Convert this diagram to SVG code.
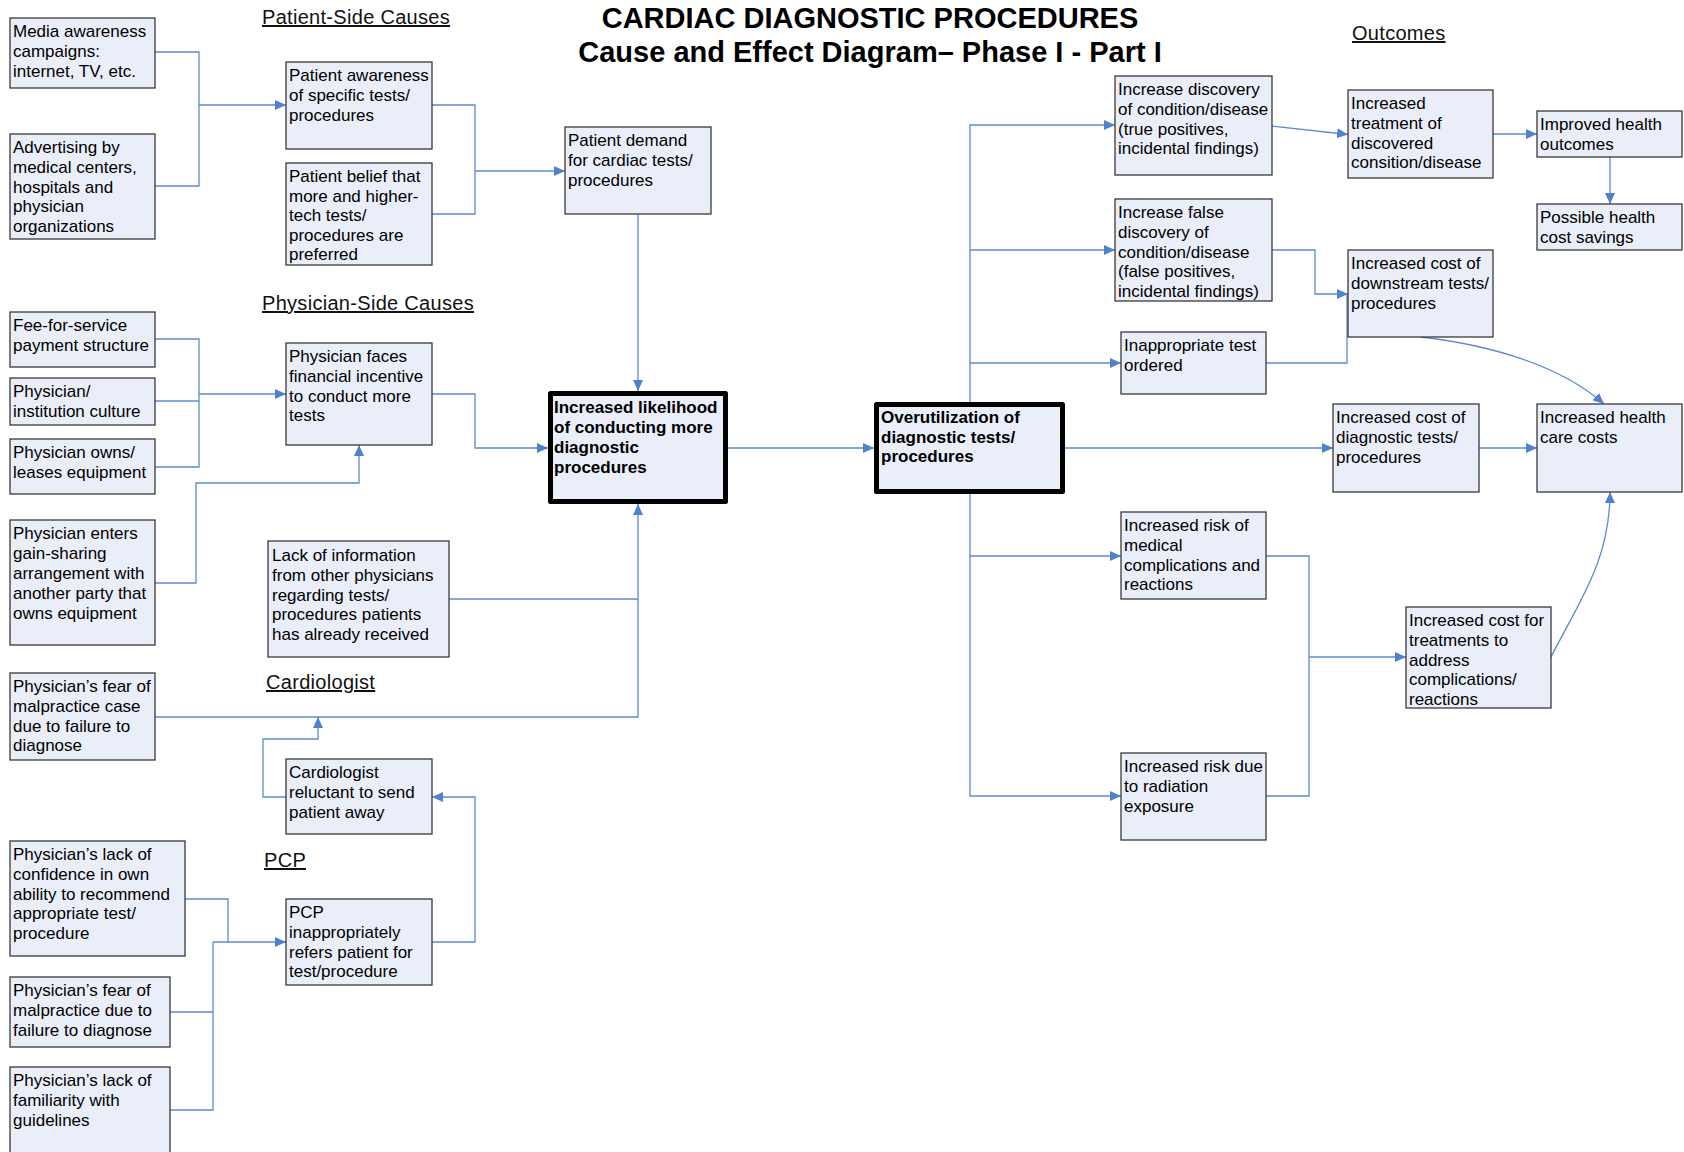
<svg xmlns="http://www.w3.org/2000/svg" width="1684" height="1152" viewBox="0 0 1684 1152">
<style>
.bx{fill:#EAEEF8;stroke:#3a3a3a;stroke-width:1.3}
.bk{fill:#EAEEF8;stroke:#000;stroke-width:5;stroke-linejoin:round}
.t{font-family:"Liberation Sans",Arial,sans-serif;font-size:17px;fill:#000}
.tb{font-family:"Liberation Sans",Arial,sans-serif;font-size:17px;font-weight:bold;fill:#000}
.lb{font-family:"Liberation Sans",Arial,sans-serif;font-size:20px;fill:#111;text-decoration:underline;letter-spacing:0.3px}
.ti{font-family:"Liberation Sans",Arial,sans-serif;font-size:29px;font-weight:bold;fill:#000}
.c{fill:none;stroke:#5B8BD0;stroke-width:1.3}
.a{marker-end:url(#ar)}
</style>
<defs>
<marker id="ar" markerUnits="userSpaceOnUse" markerWidth="11" markerHeight="10" refX="11" refY="5" orient="auto">
<path d="M0,0 L11,5 L0,10 z" fill="#4F81CC"/>
</marker>
</defs>
<rect width="1684" height="1152" fill="#fff"/>

<g id="title">
<text class="ti" x="870" y="28" text-anchor="middle">CARDIAC DIAGNOSTIC PROCEDURES</text>
<text class="ti" x="870" y="62" text-anchor="middle">Cause and Effect Diagram– Phase I - Part I</text>
</g>
<g id="labels">
<text class="lb" x="262" y="24">Patient-Side Causes</text>
<text class="lb" x="262" y="310">Physician-Side Causes</text>
<text class="lb" x="266" y="689">Cardiologist</text>
<text class="lb" x="264" y="867">PCP</text>
<text class="lb" x="1352" y="40">Outcomes</text>
</g>

<g id="connectors">
<path class="c" d="M155,52 H199 V186 H155"/>
<path class="c a" d="M199,105 H286"/>
<path class="c" d="M432,105 H475 V214 H432"/>
<path class="c a" d="M475,171 H565"/>
<path class="c a" d="M638,214 V391"/>
<path class="c" d="M155,339 H199 V467 H155"/>
<path class="c" d="M155,401 H199"/>
<path class="c a" d="M199,394 H286"/>
<path class="c a" d="M432,394 H475 V448 H548"/>
<path class="c a" d="M155,583 H196 V483 H359 V445"/>
<path class="c" d="M449,599 H638"/>
<path class="c a" d="M155,717 H638 V504"/>
<path class="c a" d="M286,797 H263 V739 H318 V717"/>
<path class="c a" d="M432,942 H475 V797 H432"/>
<path class="c" d="M185,899 H228 V942"/>
<path class="c" d="M170,1012 H213"/>
<path class="c" d="M170,1110 H213 V942"/>
<path class="c a" d="M213,942 H286"/>
<path class="c a" d="M728,448 H874"/>
<path class="c a" d="M1065,448 H1333"/>
<path class="c a" d="M970,402 V125 H1115"/>
<path class="c a" d="M970,250 H1115"/>
<path class="c a" d="M970,363 H1121"/>
<path class="c a" d="M970,494 V796 H1121"/>
<path class="c a" d="M970,556 H1121"/>
<path class="c a" d="M1263,125 L1348,134.5"/>
<path class="c a" d="M1493,134 H1537"/>
<path class="c a" d="M1610,157 V204"/>
<path class="c a" d="M1272,250 H1315 V294 H1348"/>
<path class="c" d="M1266,363 H1347 V294"/>
<path class="c a" d="M1421,337 C1490,345 1560,365 1604,404"/>
<path class="c a" d="M1479,448 H1537"/>
<path class="c" d="M1266,556 H1309 V796 H1266"/>
<path class="c a" d="M1309,657 H1406"/>
<path class="c a" d="M1551,657 C1580,600 1610,560 1610,492"/>
</g>

<g id="media"><rect class="bx" x="10" y="18" width="145" height="70"/>
<text class="t" x="13" y="37"><tspan x="13">Media awareness</tspan><tspan x="13" dy="19.8">campaigns:</tspan><tspan x="13" dy="19.8">internet, TV, etc.</tspan></text></g>
<g id="advertising"><rect class="bx" x="10" y="134" width="145" height="105"/>
<text class="t" x="13" y="153"><tspan x="13">Advertising by</tspan><tspan x="13" dy="19.8">medical centers,</tspan><tspan x="13" dy="19.8">hospitals and</tspan><tspan x="13" dy="19.8">physician</tspan><tspan x="13" dy="19.8">organizations</tspan></text></g>
<g id="patient-awareness"><rect class="bx" x="286" y="62" width="146" height="87"/>
<text class="t" x="289" y="81"><tspan x="289">Patient awareness</tspan><tspan x="289" dy="19.8">of specific tests/</tspan><tspan x="289" dy="19.8">procedures</tspan></text></g>
<g id="patient-belief"><rect class="bx" x="286" y="163" width="146" height="102"/>
<text class="t" x="289" y="182"><tspan x="289">Patient belief that</tspan><tspan x="289" dy="19.5">more and higher-</tspan><tspan x="289" dy="19.5">tech tests/</tspan><tspan x="289" dy="19.5">procedures are</tspan><tspan x="289" dy="19.5">preferred</tspan></text></g>
<g id="patient-demand"><rect class="bx" x="565" y="127" width="146" height="87"/>
<text class="t" x="568" y="146"><tspan x="568">Patient demand</tspan><tspan x="568" dy="20">for cardiac tests/</tspan><tspan x="568" dy="20">procedures</tspan></text></g>
<g id="fee"><rect class="bx" x="10" y="312" width="145" height="55"/>
<text class="t" x="13" y="331"><tspan x="13">Fee-for-service</tspan><tspan x="13" dy="19.8">payment structure</tspan></text></g>
<g id="culture"><rect class="bx" x="10" y="378" width="145" height="47"/>
<text class="t" x="13" y="397"><tspan x="13">Physician/</tspan><tspan x="13" dy="19.8">institution culture</tspan></text></g>
<g id="owns"><rect class="bx" x="10" y="439" width="145" height="55"/>
<text class="t" x="13" y="458"><tspan x="13">Physician owns/</tspan><tspan x="13" dy="19.8">leases equipment</tspan></text></g>
<g id="enters"><rect class="bx" x="10" y="520" width="145" height="125"/>
<text class="t" x="13" y="539"><tspan x="13">Physician enters</tspan><tspan x="13" dy="20">gain-sharing</tspan><tspan x="13" dy="20">arrangement with</tspan><tspan x="13" dy="20">another party that</tspan><tspan x="13" dy="20">owns equipment</tspan></text></g>
<g id="faces"><rect class="bx" x="286" y="343" width="146" height="102"/>
<text class="t" x="289" y="362"><tspan x="289">Physician faces</tspan><tspan x="289" dy="19.8">financial incentive</tspan><tspan x="289" dy="19.8">to conduct more</tspan><tspan x="289" dy="19.8">tests</tspan></text></g>
<g id="lack-info"><rect class="bx" x="268" y="541" width="181" height="116"/>
<text class="t" x="272" y="561"><tspan x="272">Lack of information</tspan><tspan x="272" dy="19.8">from other physicians</tspan><tspan x="272" dy="19.8">regarding tests/</tspan><tspan x="272" dy="19.8">procedures patients</tspan><tspan x="272" dy="19.8">has already received</tspan></text></g>
<g id="fear-case"><rect class="bx" x="10" y="673" width="145" height="87"/>
<text class="t" x="13" y="692"><tspan x="13">Physician’s fear of</tspan><tspan x="13" dy="19.8">malpractice case</tspan><tspan x="13" dy="19.8">due to failure to</tspan><tspan x="13" dy="19.8">diagnose</tspan></text></g>
<g id="cardiologist"><rect class="bx" x="286" y="759" width="146" height="75"/>
<text class="t" x="289" y="778"><tspan x="289">Cardiologist</tspan><tspan x="289" dy="19.8">reluctant to send</tspan><tspan x="289" dy="19.8">patient away</tspan></text></g>
<g id="lack-confidence"><rect class="bx" x="10" y="841" width="175" height="115"/>
<text class="t" x="13" y="860"><tspan x="13">Physician’s lack of</tspan><tspan x="13" dy="19.8">confidence in own</tspan><tspan x="13" dy="19.8">ability to recommend</tspan><tspan x="13" dy="19.8">appropriate test/</tspan><tspan x="13" dy="19.8">procedure</tspan></text></g>
<g id="pcp"><rect class="bx" x="286" y="899" width="146" height="86"/>
<text class="t" x="289" y="918"><tspan x="289">PCP</tspan><tspan x="289" dy="19.8">inappropriately</tspan><tspan x="289" dy="19.8">refers patient for</tspan><tspan x="289" dy="19.8">test/procedure</tspan></text></g>
<g id="fear-due"><rect class="bx" x="10" y="977" width="160" height="70"/>
<text class="t" x="13" y="996"><tspan x="13">Physician’s fear of</tspan><tspan x="13" dy="19.8">malpractice due to</tspan><tspan x="13" dy="19.8">failure to diagnose</tspan></text></g>
<g id="familiarity"><rect class="bx" x="10" y="1067" width="160" height="95"/>
<text class="t" x="13" y="1086"><tspan x="13">Physician’s lack of</tspan><tspan x="13" dy="19.8">familiarity with</tspan><tspan x="13" dy="19.8">guidelines</tspan></text></g>

<g id="likelihood"><rect class="bk" x="550.5" y="393.5" width="175" height="108"/>
<text class="tb" x="554" y="413"><tspan x="554">Increased likelihood</tspan><tspan x="554" dy="20">of conducting more</tspan><tspan x="554" dy="20">diagnostic</tspan><tspan x="554" dy="20">procedures</tspan></text></g>
<g id="overutilization"><rect class="bk" x="876.5" y="404.5" width="186" height="87"/>
<text class="tb" x="881" y="423"><tspan x="881">Overutilization of</tspan><tspan x="881" dy="19.5">diagnostic tests/</tspan><tspan x="881" dy="19.5">procedures</tspan></text></g>

<g id="true-discovery"><rect class="bx" x="1115" y="76" width="157" height="99"/>
<text class="t" x="1118" y="95"><tspan x="1118">Increase discovery</tspan><tspan x="1118" dy="19.8">of condition/disease</tspan><tspan x="1118" dy="19.8">(true positives,</tspan><tspan x="1118" dy="19.8">incidental findings)</tspan></text></g>
<g id="false-discovery"><rect class="bx" x="1115" y="199" width="157" height="102"/>
<text class="t" x="1118" y="218"><tspan x="1118">Increase false</tspan><tspan x="1118" dy="19.8">discovery of</tspan><tspan x="1118" dy="19.8">condition/disease</tspan><tspan x="1118" dy="19.8">(false positives,</tspan><tspan x="1118" dy="19.8">incidental findings)</tspan></text></g>
<g id="inappropriate"><rect class="bx" x="1121" y="332" width="145" height="62"/>
<text class="t" x="1124" y="351"><tspan x="1124">Inappropriate test</tspan><tspan x="1124" dy="19.8">ordered</tspan></text></g>
<g id="treatment"><rect class="bx" x="1348" y="90" width="145" height="88"/>
<text class="t" x="1351" y="109"><tspan x="1351">Increased</tspan><tspan x="1351" dy="19.8">treatment of</tspan><tspan x="1351" dy="19.8">discovered</tspan><tspan x="1351" dy="19.8">consition/disease</tspan></text></g>
<g id="downstream"><rect class="bx" x="1348" y="250" width="145" height="87"/>
<text class="t" x="1351" y="269"><tspan x="1351">Increased cost of</tspan><tspan x="1351" dy="19.8">downstream tests/</tspan><tspan x="1351" dy="19.8">procedures</tspan></text></g>
<g id="improved"><rect class="bx" x="1537" y="111" width="145" height="46"/>
<text class="t" x="1540" y="130"><tspan x="1540">Improved health</tspan><tspan x="1540" dy="19.8">outcomes</tspan></text></g>
<g id="savings"><rect class="bx" x="1537" y="204" width="145" height="46"/>
<text class="t" x="1540" y="223"><tspan x="1540">Possible health</tspan><tspan x="1540" dy="19.8">cost savings</tspan></text></g>
<g id="cost-diagnostic"><rect class="bx" x="1333" y="404" width="146" height="88"/>
<text class="t" x="1336" y="423"><tspan x="1336">Increased cost of</tspan><tspan x="1336" dy="19.8">diagnostic tests/</tspan><tspan x="1336" dy="19.8">procedures</tspan></text></g>
<g id="health-costs"><rect class="bx" x="1537" y="404" width="145" height="88"/>
<text class="t" x="1540" y="423"><tspan x="1540">Increased health</tspan><tspan x="1540" dy="19.8">care costs</tspan></text></g>
<g id="risk-medical"><rect class="bx" x="1121" y="512" width="145" height="87"/>
<text class="t" x="1124" y="531"><tspan x="1124">Increased risk of</tspan><tspan x="1124" dy="19.8">medical</tspan><tspan x="1124" dy="19.8">complications and</tspan><tspan x="1124" dy="19.8">reactions</tspan></text></g>
<g id="risk-radiation"><rect class="bx" x="1121" y="753" width="145" height="87"/>
<text class="t" x="1124" y="772"><tspan x="1124">Increased risk due</tspan><tspan x="1124" dy="19.8">to radiation</tspan><tspan x="1124" dy="19.8">exposure</tspan></text></g>
<g id="cost-treatments"><rect class="bx" x="1406" y="607" width="145" height="101"/>
<text class="t" x="1409" y="626"><tspan x="1409">Increased cost for</tspan><tspan x="1409" dy="19.8">treatments to</tspan><tspan x="1409" dy="19.8">address</tspan><tspan x="1409" dy="19.8">complications/</tspan><tspan x="1409" dy="19.8">reactions</tspan></text></g>
</svg>
